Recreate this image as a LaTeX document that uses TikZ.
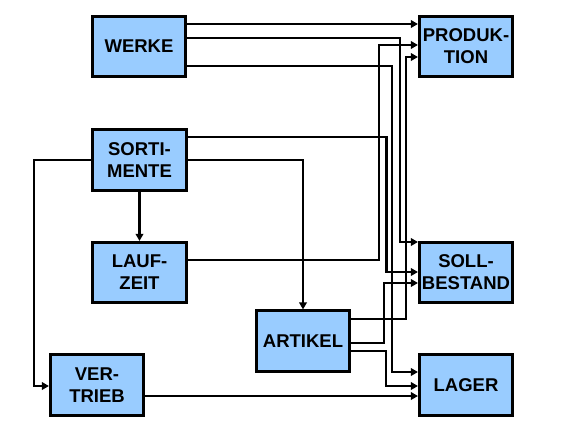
\documentclass[tikz,border=0pt]{standalone}
\usepackage{fontspec}
\setmainfont{Liberation Sans}
\usetikzlibrary{arrows.meta}
\definecolor{boxblue}{HTML}{99CCFF}
\tikzset{
  box/.style={draw=black, line width=2.6pt, fill=boxblue, minimum width=93.5pt, minimum height=60.5pt,
    inner sep=0pt, align=center, font=\bfseries\fontsize{18.5}{22}\selectfont},
  arr/.style={line width=2.6pt, -{Triangle[length=7pt,width=7.5pt]}}
}
\begin{document}
\begin{tikzpicture}[x=1pt,y=-1pt]
\useasboundingbox (0,0) rectangle (575,432);
\node[box] (werke) at (139,46.5) {WERKE};
\node[box] (prod) at (466,46.5) {PRODUK-\\TION};
\node[box] (sort) at (139.5,160) {SORTI-\\MENTE};
\node[box] (lauf) at (139.5,272.5) {LAUF-\\ZEIT};
\node[box] (soll) at (466,272.5) {SOLL-\\BESTAND};
\node[box] (art) at (303,341) {ARTIKEL};
\node[box] (vert) at (97,385) {VER-\\TRIEB};
\node[box] (lager) at (466,385) {LAGER};
% connectors
\draw[arr] (werke.east |- 0,24) -- (prod.west |- 0,24);
\draw[arr] (werke.east |- 0,38) -| (400,242) -- (soll.west |- 0,242);
\draw[arr] (werke.east |- 0,66) -| (392,372) -- (lager.west |- 0,372);
\draw[arr] (sort.east |- 0,137) -| (386.5,272) -- (soll.west |- 0,272);
\draw[arr] (sort.east |- 0,160) -| (art.north);
\draw[arr] (sort.west) -| (34,386) -- (vert.west |- 0,386);
\draw[arr] (sort.south) -- (lauf.north);
\draw[arr] (lauf.east |- 0,260) -| (379,45) -- (prod.west |- 0,45);
\draw[arr] (art.east |- 0,319) -| (406,57) -- (prod.west |- 0,57);
\draw[arr] (art.east |- 0,343) -| (384,283) -- (soll.west |- 0,283);
\draw[arr] (art.east |- 0,351) -| (386,386) -- (lager.west |- 0,386);
\draw[arr] (vert.east |- 0,396) -- (lager.west |- 0,396);
\end{tikzpicture}
\end{document}
